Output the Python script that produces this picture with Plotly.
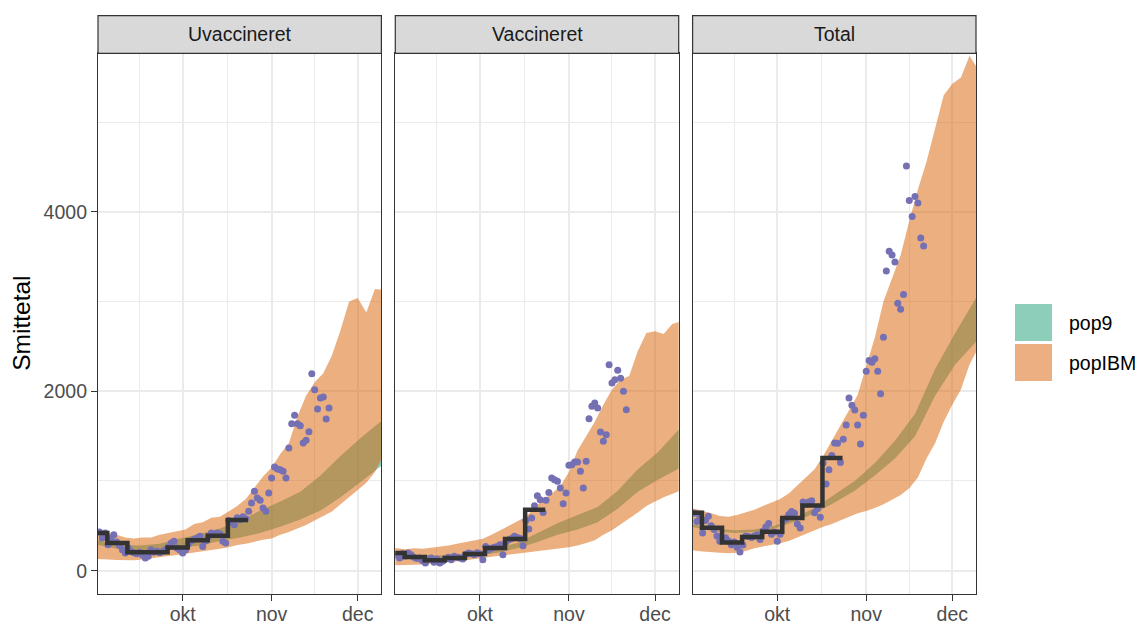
import plotly.graph_objects as go
import pandas as pd

# ---------------- data ----------------
PANELS = ["Uvaccineret", "Vaccineret", "Total"]
LEGEND_LABELS = ["pop9", "popIBM"]

X_TICK_DATES = ["2021-10-01", "2021-11-01", "2021-12-01"]
X_TICK_LABELS = ["okt", "nov", "dec"]
X_MINOR_DATES = ["2021-09-16", "2021-10-16 12:00", "2021-11-16"]
Y_TICKS = [0, 2000, 4000]
Y_TICK_LABELS = ["0", "2000", "4000"]
Y_MINOR = [1000, 3000, 5000]
X_RANGE = ["2021-09-01 12:00", "2021-12-09 06:00"]
Y_RANGE = [-260, 5772]

# popIBM band (wide)
BAND_DATES = ["2021-09-01", "2021-09-05", "2021-09-08", "2021-09-11", "2021-09-14", "2021-09-17",
              "2021-09-20", "2021-09-23", "2021-09-26", "2021-09-29", "2021-10-02", "2021-10-05",
              "2021-10-08", "2021-10-11", "2021-10-14", "2021-10-17", "2021-10-20", "2021-10-23",
              "2021-10-26", "2021-10-29", "2021-11-01", "2021-11-04", "2021-11-07", "2021-11-10",
              "2021-11-13", "2021-11-16", "2021-11-19", "2021-11-22", "2021-11-25", "2021-11-28",
              "2021-12-01", "2021-12-04", "2021-12-07", "2021-12-10"]
IBM_UPPER_UVAC = [440, 420, 400, 370, 360, 370, 370, 400, 420, 440, 460, 520, 540, 590, 600, 660, 720,
                  800, 930, 1050, 1150, 1300, 1420, 1720, 1950, 2100, 2200, 2400, 2680, 3000, 3040,
                  2880, 3140, 3130]
IBM_LOWER_UVAC = [130, 125, 120, 115, 115, 125, 140, 150, 165, 175, 185, 200, 215, 230, 245, 260, 285,
                  300, 320, 345, 360, 400, 430, 470, 510, 560, 610, 660, 740, 810, 900, 980, 1100, 1290]
IBM_UPPER_VAC = [255, 240, 250, 245, 255, 265, 280, 300, 320, 335, 355, 400, 450, 500, 550, 600, 700,
                 790, 860, 940, 1100, 1340, 1500, 1660, 1850, 2020, 2130, 2170, 2450, 2650, 2670,
                 2640, 2750, 2780]
IBM_LOWER_VAC = [60, 60, 65, 68, 75, 85, 95, 105, 115, 125, 140, 155, 170, 185, 195, 210, 220, 230,
                 240, 250, 262, 280, 310, 340, 400, 450, 510, 580, 650, 720, 770, 820, 860, 895]
IBM_UPPER_TOT = [700, 670, 640, 610, 600, 620, 650, 680, 720, 760, 800, 860, 950, 1030, 1130, 1280,
                 1450, 1620, 1790, 1960, 2280, 2600, 3000, 3250, 3520, 3900, 4250, 4560, 4920, 5300,
                 5430, 5500, 5740, 5590]
IBM_LOWER_TOT = [230, 215, 205, 200, 195, 200, 220, 250, 270, 290, 305, 330, 370, 410, 450, 490, 520,
                 560, 600, 640, 665, 700, 740, 790, 845, 920, 1040, 1250, 1420, 1660, 1850, 2020,
                 2300, 2480]

# pop9 band (narrow)
TEAL_DATES = ["2021-09-01", "2021-09-09", "2021-09-16", "2021-09-23", "2021-09-30", "2021-10-07",
              "2021-10-14", "2021-10-21", "2021-10-28", "2021-11-04", "2021-11-11", "2021-11-18",
              "2021-11-25", "2021-12-02", "2021-12-10"]
POP9_UPPER_UVAC = [340, 290, 280, 300, 360, 410, 470, 560, 670, 770, 880, 1060, 1280, 1480, 1690]
POP9_LOWER_UVAC = [290, 240, 215, 225, 250, 280, 330, 370, 420, 490, 570, 670, 820, 990, 1190]
POP9_UPPER_VAC = [200, 175, 170, 180, 205, 250, 310, 420, 530, 620, 710, 890, 1130, 1320, 1600]
POP9_LOWER_VAC = [165, 140, 135, 145, 165, 200, 250, 320, 400, 460, 540, 690, 880, 1015, 1150]
POP9_UPPER_TOT = [520, 470, 450, 460, 500, 590, 700, 850, 1000, 1200, 1450, 1750, 2250, 2650, 3080]
POP9_LOWER_TOT = [490, 440, 420, 430, 470, 545, 640, 760, 890, 1060, 1250, 1500, 1950, 2300, 2580]

# weekly observed (step line)
STEP_DATES = ["2021-08-29 18:00", "2021-09-04 18:00", "2021-09-11 18:00", "2021-09-18 18:00",
              "2021-09-25 18:00", "2021-10-02 18:00", "2021-10-09 18:00", "2021-10-16 18:00",
              "2021-10-23 18:00"]
STEP_UVAC = [420, 309, 206, 206, 258, 340, 390, 565, 565]
STEP_VAC = [197, 153, 115, 141, 186, 253, 353, 680, 680]
STEP_TOT = [647, 479, 315, 375, 435, 587, 727, 1257, 1257]

# daily observed (points), 2021-09-02 .. 2021-11-21
POINT_DATES = pd.date_range("2021-09-02", "2021-11-21", freq="D")
OBS_UVAC = [430, 364, 420, 290, 360, 401, 320, 280, 234, 197,
            253, 215, 200, 190, 205, 175, 141,
            160, 234, 205, 216, 200, 215, 234,
            265, 309, 327, 253, 230, 197, 230,
            300, 330, 350, 364, 383, 271, 330,
            380, 420, 400, 420, 410, 327, 309,
            560, 540, 513, 590, 569, 600, 580,
            662, 755, 885, 810, 784, 699, 662, 866,
            1033, 1156, 1134, 1126, 1108, 1033, 1368, 1639, 1732, 1639, 1617, 1424, 1453, 1550,
            2197, 2018, 1803, 1925, 1937, 1691, 1814]
OBS_VAC = [175, 141, 190, 165, 197, 178, 150, 135, 141, 110,
           85, 130, 140, 93, 130, 85, 104,
           130, 150, 123, 160, 150, 140, 130,
           180, 197, 190, 178, 200, 190, 123,
           270, 234, 250, 260, 271, 290, 178,
           320, 346, 360, 383, 370, 360, 279,
           560, 465, 587, 725, 836, 790, 650,
           784, 873, 1033, 1015, 996, 922, 747, 866,
           1175, 1182, 1212, 1212, 1108, 922, 1219, 1695, 1832, 1870, 1814, 1546, 1442, 1516,
           2297, 2093, 2130, 2234, 2145, 2000, 1795]
OBS_TOT = [640, 547, 610, 419, 560, 607, 500, 460, 387, 327,
           340, 367, 330, 290, 320, 260, 208,
           287, 387, 380, 370, 387, 400, 347,
           440, 487, 527, 407, 430, 327, 407,
           560, 580, 627, 659, 640, 520, 475,
           766, 740, 766, 780, 647, 690, 595,
           1200, 966, 1126, 1285, 1425, 1420, 1205,
           1465, 1625, 1924, 1844, 1792, 1625, 1413, 1733,
           2224, 2343, 2323, 2363, 2224, 1972, 2603, 3341, 3561, 3521, 3441, 2982, 2914, 3078,
           4511, 4128, 3948, 4172, 4100, 3709, 3621]

# ---------------- styling ----------------
TEAL_FILL = "rgba(27,158,119,0.5)"
ORANGE_FILL = "rgba(217,95,2,0.5)"
POINT_COLOR = "#7570b3"
STEP_COLOR = "#333333"
FONT = "Liberation Sans, Arial, sans-serif"
TICK_SIZE = 19.5

panel_data = [
    (IBM_UPPER_UVAC, IBM_LOWER_UVAC, POP9_UPPER_UVAC, POP9_LOWER_UVAC, STEP_UVAC, OBS_UVAC),
    (IBM_UPPER_VAC, IBM_LOWER_VAC, POP9_UPPER_VAC, POP9_LOWER_VAC, STEP_VAC, OBS_VAC),
    (IBM_UPPER_TOT, IBM_LOWER_TOT, POP9_UPPER_TOT, POP9_LOWER_TOT, STEP_TOT, OBS_TOT),
]

W, H = 1137, 623
ML, MR, MT, MB = 98, 161, 53, 29
PW = W - ML - MR
PH = H - MT - MB


def px_x(px):
    return (px - ML) / PW


def px_y(py):
    return (H - MB - py) / PH


panel_w = 283.4 / PW
gap = (1 - 3 * panel_w) / 2
domains = [[0, panel_w], [panel_w + gap, 2 * panel_w + gap], [2 * panel_w + 2 * gap, 1]]

fig = go.Figure()

for i, (iu, il, tu, tl, st, ob) in enumerate(panel_data):
    xa = "x" if i == 0 else f"x{i+1}"
    ya = "y" if i == 0 else f"y{i+1}"
    fig.add_trace(go.Scatter(
        x=TEAL_DATES + TEAL_DATES[::-1], y=tu + tl[::-1], fill="toself",
        fillcolor=TEAL_FILL, line=dict(width=0), mode="lines", hoverinfo="skip",
        xaxis=xa, yaxis=ya, showlegend=False))
    fig.add_trace(go.Scatter(
        x=BAND_DATES + BAND_DATES[::-1], y=iu + il[::-1], fill="toself",
        fillcolor=ORANGE_FILL, line=dict(width=0), mode="lines", hoverinfo="skip",
        xaxis=xa, yaxis=ya, showlegend=False))
    fig.add_trace(go.Scatter(
        x=POINT_DATES, y=ob, mode="markers",
        marker=dict(size=7, color=POINT_COLOR, line=dict(width=0)),
        xaxis=xa, yaxis=ya, showlegend=False))
    fig.add_trace(go.Scatter(
        x=STEP_DATES, y=st, mode="lines", line=dict(shape="hv", color=STEP_COLOR, width=4.5),
        xaxis=xa, yaxis=ya, showlegend=False))

axis_common = dict(showline=True, linecolor="#333333", linewidth=1.2, mirror=True,
                   showgrid=True, gridcolor="#ebebeb", gridwidth=1.8, zeroline=False,
                   automargin=False)

layout = dict(
    width=W, height=H,
    margin=dict(l=ML, r=MR, t=MT, b=MB, autoexpand=False),
    paper_bgcolor="white", plot_bgcolor="white",
    font=dict(family=FONT, color="#4d4d4d", size=TICK_SIZE),
    showlegend=False,
)

for i in range(3):
    xk = "xaxis" if i == 0 else f"xaxis{i+1}"
    yk = "yaxis" if i == 0 else f"yaxis{i+1}"
    xa_anchor = "y" if i == 0 else f"y{i+1}"
    ya_anchor = "x" if i == 0 else f"x{i+1}"
    layout[xk] = dict(
        axis_common, type="date", domain=domains[i], anchor=xa_anchor, range=X_RANGE,
        tickmode="array", tickvals=X_TICK_DATES, ticktext=X_TICK_LABELS,
        ticks="outside", ticklen=6, tickwidth=1.2, tickcolor="#333333",
        ticklabelstandoff=-4,
        tickfont=dict(family=FONT, size=TICK_SIZE, color="#4d4d4d"),
        minor=dict(tickmode="array", tickvals=X_MINOR_DATES, showgrid=True,
                   gridcolor="#ebebeb", gridwidth=0.9, ticks=""),
    )
    ydict = dict(
        axis_common, domain=[0, 1], anchor=ya_anchor, range=Y_RANGE,
        tickmode="array", tickvals=Y_TICKS, ticktext=Y_TICK_LABELS,
        minor=dict(tickmode="array", tickvals=Y_MINOR, showgrid=True,
                   gridcolor="#ebebeb", gridwidth=0.9, ticks=""),
    )
    if i == 0:
        ydict.update(ticks="outside", ticklen=6, tickwidth=1.2, tickcolor="#333333",
                     tickfont=dict(family=FONT, size=TICK_SIZE, color="#4d4d4d"))
    else:
        ydict.update(showticklabels=False, ticks="", matches="y")
    layout[yk] = ydict

shapes = []
annotations = []
strip_y0 = px_y(53.3)
strip_y1 = px_y(15.7)
for i, name in enumerate(PANELS):
    shapes.append(dict(type="rect", xref="paper", yref="paper",
                       x0=domains[i][0], x1=domains[i][1], y0=strip_y0, y1=strip_y1,
                       fillcolor="#d9d9d9", line=dict(color="#333333", width=1.2), layer="above"))
    annotations.append(dict(text=name, xref="paper", yref="paper",
                            x=(domains[i][0] + domains[i][1]) / 2, y=px_y(34.5),
                            xanchor="center", yanchor="middle", showarrow=False,
                            font=dict(family=FONT, size=TICK_SIZE, color="#1a1a1a")))

# y-axis title
annotations.append(dict(text="Smittetal", xref="paper", yref="paper",
                        x=px_x(22), y=px_y(323.8), textangle=-90,
                        xanchor="center", yanchor="middle", showarrow=False,
                        font=dict(family=FONT, size=24.5, color="black")))

# legend (manual)
legend_fills = ["rgb(141,206,187)", "rgb(236,175,129)"]
legend_tops = [304, 344]
for lab, col, top in zip(LEGEND_LABELS, legend_fills, legend_tops):
    shapes.append(dict(type="rect", xref="paper", yref="paper",
                       x0=px_x(1015), x1=px_x(1052), y0=px_y(top + 37), y1=px_y(top),
                       fillcolor=col, line=dict(width=0)))
    annotations.append(dict(text=lab, xref="paper", yref="paper",
                            x=px_x(1067), y=px_y(top + 18.5), xanchor="left", yanchor="middle",
                            showarrow=False, font=dict(family=FONT, size=TICK_SIZE, color="black")))

layout["shapes"] = shapes
layout["annotations"] = annotations
fig.update_layout(**layout)

# remove the default page margin so the figure fills the window exactly
fig.write_html(
    "out.html",
    config={"displayModeBar": False},
    post_script="document.body.style.margin='0';document.body.style.overflow='hidden';",
)
